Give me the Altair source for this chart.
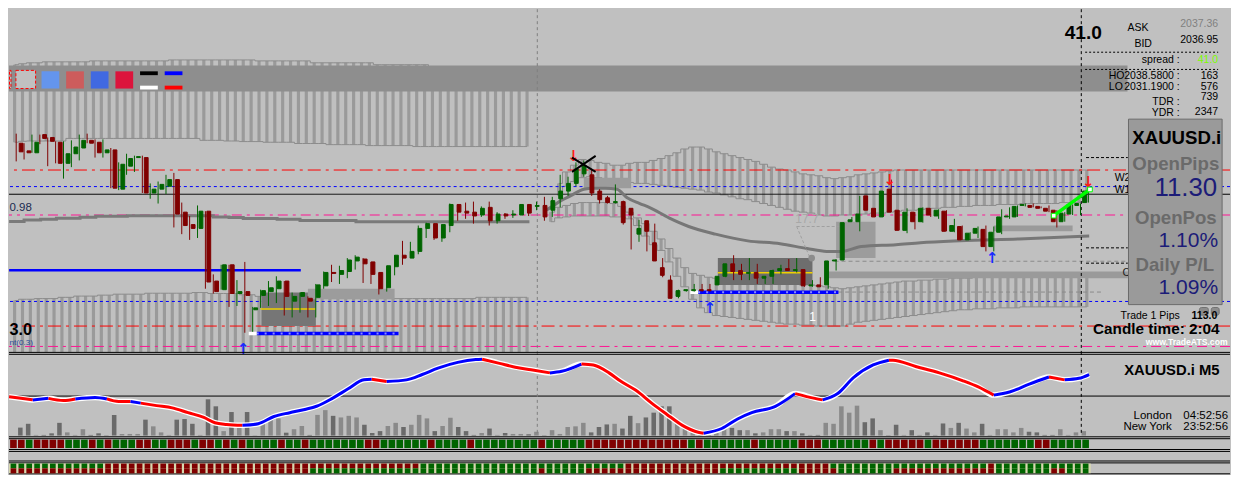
import altair as alt
import pandas as pd

# ================= values =================
# XAUUSD.i M5 candles, bar index 0..136 (left to right)
open_ = [2042.0, 2041.2, 2041.0, 2042.9, 2042.6, 2042.1, 2039.9, 2040.9, 2041.5, 2042.3,
         2042.1, 2041.0, 2041.3, 2037.2, 2039.6, 2040.5, 2040.5, 2036.8, 2037.2, 2037.5,
         2038.2, 2034.8, 2033.5, 2033.1, 2034.9, 2027.6, 2026.7, 2029.3, 2026.3, 2026.5,
         2024.6, 2026.1, 2026.5, 2026.8, 2027.6, 2025.5, 2026.0, 2025.8, 2025.9, 2027.1,
         2028.5, 2028.3, 2028.6, 2029.7, 2029.9, 2029.6, 2028.5, 2026.9, 2029.1, 2030.3,
         2030.0, 2030.7, 2033.1, 2033.6, 2032.1, 2033.4, 2035.6, 2034.9, 2034.8, 2034.5,
         2035.3, 2033.9, 2034.6, 2034.5, 2034.5, 2035.6, 2035.4, 2035.5, 2035.0, 2036.2,
         2037.0, 2037.8, 2038.8, 2038.7, 2037.0, 2036.3, 2035.8, 2035.9, 2035.2, 2032.5,
         2033.9, 2031.6, 2029.0, 2027.7, 2026.0, 2026.6, 2026.6, 2026.7, 2026.7, 2027.2,
         2028.1, 2029.4, 2028.7, 2028.4, 2028.5, 2027.9, 2028.1, 2028.7, 2028.9, 2028.7,
         2028.8, 2027.1, 2027.2, 2027.2, 2029.7, 2029.8, 2033.8, 2033.8, 2036.5, 2035.2,
         2034.3, 2037.2, 2035.0, 2032.9, 2034.8, 2033.8, 2035.2, 2034.4, 2034.9, 2032.8,
         2033.3, 2031.9, 2032.6, 2033.0, 2031.2, 2032.7, 2034.3, 2034.3, 2035.5, 2035.5,
         2035.4, 2035.2, 2035.0, 2033.8, 2034.6, 2035.5, 2035.8]
close = [2041.1, 2041.0, 2042.1, 2042.5, 2042.2, 2039.9, 2040.9, 2041.6, 2042.3, 2042.0,
         2041.0, 2041.3, 2037.3, 2039.8, 2040.4, 2040.6, 2036.8, 2037.2, 2037.7, 2038.2,
         2034.6, 2033.4, 2033.1, 2034.9, 2027.5, 2026.5, 2029.3, 2026.3, 2026.5, 2026.1,
         2024.8, 2026.6, 2026.9, 2027.6, 2026.0, 2026.0, 2026.4, 2025.5, 2027.2, 2028.5,
         2028.4, 2028.7, 2029.8, 2030.1, 2029.4, 2028.3, 2026.8, 2029.2, 2030.3, 2030.0,
         2030.7, 2033.1, 2033.6, 2032.1, 2033.5, 2035.6, 2034.8, 2034.7, 2034.4, 2035.2,
         2033.9, 2034.6, 2034.4, 2034.6, 2035.6, 2034.7, 2035.5, 2034.3, 2036.0, 2037.0,
         2037.8, 2039.3, 2039.7, 2036.8, 2036.1, 2035.8, 2035.9, 2033.7, 2034.5, 2033.1,
         2032.8, 2029.7, 2028.2, 2025.8, 2026.6, 2026.7, 2026.7, 2026.6, 2026.6, 2028.1,
         2029.4, 2028.6, 2028.3, 2028.5, 2027.9, 2028.1, 2028.7, 2028.9, 2028.7, 2028.8,
         2027.1, 2027.2, 2027.0, 2029.7, 2029.8, 2033.7, 2034.0, 2034.6, 2035.0, 2034.3,
         2037.0, 2034.8, 2032.9, 2034.8, 2033.8, 2035.2, 2034.5, 2035.0, 2032.8, 2033.4,
         2031.9, 2032.6, 2033.1, 2031.2, 2032.7, 2034.3, 2034.4, 2035.4, 2035.6, 2035.3,
         2035.2, 2034.9, 2033.8, 2034.7, 2035.6, 2035.7, 2037.0]
high = [2043.0, 2042.0, 2042.9, 2042.9, 2042.6, 2042.2, 2042.2, 2042.3, 2042.9, 2043.0,
        2042.4, 2042.4, 2041.5, 2040.0, 2040.9, 2040.7, 2040.7, 2037.8, 2038.0, 2038.7,
        2038.9, 2035.8, 2034.4, 2035.5, 2034.9, 2028.3, 2029.3, 2029.3, 2027.7, 2029.6,
        2024.9, 2026.7, 2027.6, 2028.1, 2027.6, 2026.4, 2026.4, 2026.0, 2027.3, 2028.6,
        2029.3, 2029.2, 2030.0, 2030.3, 2030.0, 2029.6, 2028.5, 2029.2, 2030.3, 2031.8,
        2031.7, 2033.4, 2033.7, 2033.6, 2033.5, 2035.7, 2035.6, 2035.8, 2035.9, 2035.4,
        2035.9, 2034.8, 2034.7, 2035.0, 2035.6, 2035.6, 2035.9, 2036.4, 2036.4, 2038.7,
        2038.5, 2040.0, 2040.2, 2039.2, 2037.2, 2036.5, 2037.7, 2036.0, 2035.2, 2034.0,
        2033.9, 2033.6, 2030.0, 2028.2, 2026.7, 2026.7, 2027.3, 2027.3, 2027.3, 2028.1,
        2029.4, 2030.3, 2029.4, 2030.0, 2029.4, 2028.1, 2028.8, 2029.3, 2029.9, 2030.0,
        2028.8, 2027.7, 2028.0, 2029.7, 2029.9, 2033.7, 2034.3, 2036.5, 2036.5, 2035.2,
        2037.0, 2038.2, 2035.0, 2035.2, 2034.8, 2035.3, 2035.2, 2035.1, 2035.0, 2034.1,
        2033.4, 2032.7, 2033.3, 2033.4, 2033.3, 2035.1, 2035.3, 2035.5, 2035.7, 2035.7,
        2035.4, 2035.5, 2035.0, 2034.8, 2035.6, 2035.7, 2037.2]
low = [2040.1, 2040.3, 2041.0, 2041.9, 2039.6, 2039.9, 2038.3, 2039.5, 2040.2, 2042.0,
       2040.5, 2040.5, 2037.3, 2037.1, 2038.7, 2039.0, 2036.8, 2036.2, 2035.7, 2036.7,
       2033.2, 2032.5, 2031.9, 2032.1, 2026.8, 2026.3, 2026.7, 2024.9, 2025.0, 2022.2,
       2022.3, 2024.8, 2025.0, 2025.3, 2024.0, 2023.8, 2024.3, 2023.8, 2023.8, 2026.8,
       2027.5, 2027.3, 2027.9, 2028.8, 2027.4, 2027.3, 2026.2, 2026.5, 2028.2, 2029.3,
       2030.0, 2030.4, 2032.1, 2031.9, 2031.7, 2032.7, 2033.9, 2034.1, 2033.6, 2034.3,
       2033.4, 2033.6, 2034.1, 2034.2, 2034.5, 2034.4, 2035.0, 2033.9, 2034.3, 2035.3,
       2036.5, 2037.5, 2038.5, 2036.5, 2035.7, 2035.7, 2035.7, 2033.5, 2030.9, 2031.7,
       2030.7, 2029.7, 2028.0, 2025.8, 2025.8, 2026.5, 2026.5, 2026.5, 2026.5, 2027.2,
       2028.0, 2027.7, 2027.7, 2027.7, 2027.3, 2027.3, 2027.3, 2028.3, 2028.7, 2028.5,
       2027.0, 2027.0, 2027.0, 2026.8, 2028.7, 2029.8, 2033.8, 2032.8, 2035.0, 2034.3,
       2034.3, 2034.8, 2032.9, 2032.6, 2033.0, 2033.7, 2034.3, 2034.1, 2032.8, 2032.7,
       2031.9, 2031.9, 2032.1, 2030.7, 2030.7, 2032.5, 2034.1, 2034.3, 2035.4, 2035.3,
       2035.2, 2034.8, 2033.2, 2033.8, 2034.5, 2034.5, 2035.8]

# tick volume per bar
volume = [250, 370, 20, 20, 70, 400, 100, 20, 200, 20, 70, 20, 650, 50, 50, 50, 500, 290, 100, 20,
          500, 520, 370, 20, 1140, 920, 140, 740, 270, 740, 10, 370, 520, 540, 90, 200, 300, 20, 650, 800,
          620, 570, 620, 570, 340, 80, 140, 300, 400, 270, 340, 650, 540, 140, 300, 560, 270, 140, 20, 80,
          220, 20, 80, 50, 50, 40, 120, 10, 170, 50, 270, 290, 400, 100, 270, 350, 370, 220,
          620, 390, 570, 720, 920, 920, 500, 320, 100, 70, 100, 100, 240, 240, 170, 170, 70, 100, 200, 200,
          140, 140, 70, 20, 20, 400, 370, 920, 720, 940, 420, 540, 170, 10, 340, 20, 170, 20, 100, 20,
          380, 240, 400, 220, 100, 370, 20, 200, 200, 100, 240, 120, 100, 20, 20, 200, 20, 100, 140]

# hatched envelope bands (price of upper and lower edge per bar)
band_a_start = 0
band_a_top = [2050.2] + [2050.3] + [2050.4] * 2 + [2050.5] * 6 + [2050.6] * 10 + [2050.7] * 11 + [2050.6] * 7 + [2050.4] * 8 + [2050.2] * 7 + [2050.0] * 13
band_a_bot = [2042.1] + [2042.2] + [2042.23] * 5 + [2042.5] * 17 + [2042.3] * 3 + [2042.23] * 2 + [2042.17] * 3 + [2042.1] * 4 + [2041.97] * 4 + [2041.85] * 5 + [2041.75] * 6 + [2041.65] * 15
band_b_start = 0
band_b_top = [2025.57] + [2025.7] * 2 + [2025.77] * 3 + [2025.9] * 2 + [2026.03] * 3 + [2026.13] * 2 + [2026.23] * 4 + [2026.33] * 6 + [2026.4] * 2 + [2026.3] * 4 + [2026.17] * 2 + [2026.0] * 4 + [2025.77] * 24 + [2025.9] * 7
band_b_bot = [2019.0] * 66
band_c_start = 69
band_c_top = [2037.8, 2039.0, 2039.7, 2040.3, 2040.2, 2040.0, 2039.9, 2039.7, 2039.7, 2039.9, 2040.0, 2040.0, 2040.2, 2040.4,
              2040.7, 2041.0, 2041.4, 2041.6, 2041.6, 2041.4, 2041.1, 2040.9, 2040.7, 2040.5, 2040.3, 2040.1, 2039.8, 2039.5,
              2039.3, 2039.2, 2039.0, 2038.8, 2038.7, 2038.6, 2038.4, 2038.3, 2038.4, 2038.5, 2038.7, 2038.8, 2038.9, 2039.0,
              2039.1] + [2039.2] * 25
band_c_bot = [2036.5, 2037.5, 2038.0, 2038.4, 2038.5, 2038.4, 2038.2, 2038.1, 2038.0, 2037.9,
              2037.8, 2037.8, 2037.7, 2037.6, 2037.5, 2037.4, 2037.3, 2037.2, 2037.1, 2036.9,
              2036.8, 2036.6, 2036.4, 2036.2, 2036.1, 2035.9, 2035.7, 2035.5, 2035.3, 2035.1,
              2034.9, 2034.8, 2034.7, 2034.5, 2034.4, 2034.4, 2034.5, 2034.5, 2034.6, 2034.6,
              2034.7, 2034.7, 2034.8, 2034.9, 2035.0, 2035.0, 2035.1, 2035.2, 2035.2, 2035.3,
              2035.3, 2035.4, 2035.4, 2035.5, 2035.5, 2035.5, 2035.6, 2035.6, 2035.6, 2035.7,
              2035.7, 2035.7, 2035.7, 2035.7, 2035.8, 2035.8, 2035.8, 2035.8]
band_d_start = 68
band_d_top = [2034.8, 2035.3, 2035.5, 2035.7, 2035.8, 2035.8, 2035.8, 2035.8, 2035.7, 2035.4,
              2034.8, 2034.2, 2033.6, 2032.8, 2032.0, 2031.0, 2030.0, 2029.0, 2028.4, 2028.2,
              2028.0, 2027.9, 2027.8, 2027.7, 2027.7, 2027.6, 2027.5, 2027.5, 2027.4, 2027.4,
              2027.3, 2027.3, 2027.2, 2027.2, 2027.1, 2027.0, 2026.9, 2026.8, 2026.9, 2027.0,
              2027.1, 2027.2, 2027.3, 2027.4, 2027.5, 2027.6, 2027.6, 2027.7, 2027.7, 2027.8,
              2027.8, 2027.9, 2027.9, 2027.9, 2028.0, 2028.0, 2028.0, 2028.0] + [2028.1] * 11
band_d_bot = [2033.8, 2034.2, 2034.3, 2034.4, 2034.4, 2034.4, 2034.4, 2034.4, 2034.3, 2034.3,
              2034.1, 2033.4, 2032.3, 2031.4, 2030.8, 2029.6, 2028.1, 2027.0, 2025.7, 2024.8,
              2024.3, 2024.0, 2023.9, 2023.8, 2023.7, 2023.6, 2023.5, 2023.4, 2023.3, 2023.2,
              2023.1, 2023.1, 2023.0, 2023.0, 2022.9, 2022.9, 2022.9, 2022.9, 2023.1, 2023.3,
              2023.4, 2023.5, 2023.6, 2023.7, 2023.8, 2023.9, 2024.0, 2024.1, 2024.2, 2024.3,
              2024.4, 2024.5, 2024.6, 2024.6, 2024.7, 2024.7, 2024.7, 2024.8, 2024.8, 2024.8] + [2024.9] * 9

# moving averages
ma_step_idx = [-0.9, 1.0, 3.1, 5.1, 8.1, 10.1, 14.1, 25.0, 27.0, 28.8, 33.1, 36.0, 43.1, 65.1]
ma_step_val = [2033.83, 2033.97, 2034.07, 2034.17, 2034.27, 2034.37, 2034.43, 2034.30, 2034.23, 2034.13,
               2034.05, 2033.93, 2033.80, 2033.80]
ma_slow_idx = [67.2, 67.8, 69.1, 70.3, 72.0, 73.2, 74.7, 76.2, 77.5, 79.1, 80.3, 82.8, 85.3, 88.7, 92.8,
               96.9, 100.3, 102.8, 104.7, 107.2, 111.6, 114.7, 119.7, 127.2, 136.1]
ma_slow_val = [2035.0, 2035.3, 2036.0, 2036.5, 2037.2, 2037.3, 2037.3, 2037.2, 2036.3, 2035.7, 2035.3,
               2034.2, 2033.3, 2032.5, 2031.8, 2031.5, 2031.0, 2030.7, 2030.7, 2031.2, 2031.4, 2031.6,
               2031.8, 2032.0, 2032.3]

# full-width price levels
level_price = [2039.2, 2037.47, 2036.67, 2034.5, 2025.47, 2022.9, 2020.77]
# partial lines: (from bar, to bar, price)
blue_line = [(-0.9, 36.1, 2028.73)]
trade_dots = [(30.5, 48.5, 2022.13), (86.5, 104.3, 2026.43)]
trade_white = [(29.5, 30.5, 2022.13), (85.5, 86.5, 2026.43)]
yellow_lines = [(31.0, 38.0, 2024.67), (89.0, 101.0, 2028.47)]
black_short = [(135.7, 141.0, 2040.5), (135.7, 141.0, 2031.07), (135.7, 141.0, 2029.47)]
gray_dash = [(103.8, 141.0, 2029.67), (101.6, 137.8, 2026.45)]
# boxes: (bar from, bar to, price low, price high)
boxes = [(31.1, 38.0, 2022.9, 2026.4), (37.0, 48.0, 2025.7, 2026.8), (89.0, 101.0, 2027.2, 2030.0),
         (72.0, 78.0, 2037.3, 2038.4), (104.0, 109.0, 2030.0, 2033.8), (124.0, 134.0, 2032.8, 2033.4),
         (103.0, 141.0, 2027.9, 2028.6)]
# signal arrows (bar, price)
arrows_up = [(28.8, 2020.5), (88.0, 2024.8), (123.8, 2030.0)]
arrows_down = [(70.7, 2040.65), (110.8, 2038.2), (136.0, 2037.9)]
trade_green = [(131.6, 2034.43), (136.2, 2037.17)]
cross_marks = [(70.5, 2040.5, 73.5, 2039.0), (73.5, 2040.67, 70.5, 2039.0)]
tri_dash = [(99.0, 2033.3, 104.5, 2033.3), (99.0, 2033.3, 100.7, 2030.0)]
session_lines = [66.1, 135.1]

# oscillator curve (bar, value, colour of following segment)
osc_idx = [-0.9, 0.6, 2.1, 4.1, 6.0, 7.5, 10.0, 11.5, 13.0, 14.5, 15.8, 17.8, 19.8, 21.8, 23.8, 25.2, 26.7,
           28.7, 30.7, 32.7, 34.7, 36.6, 38.1, 40.1, 42.1, 44.1, 45.1, 47.0, 49.5, 51.5, 53.5, 56.0, 58.3,
           59.1, 61.3, 63.3, 65.3, 67.7, 69.2, 71.7, 73.2, 75.2, 76.6, 78.6, 80.6, 82.5, 84.5, 86.5, 87.2,
           89.5, 91.5, 93.3, 96.3, 98.8, 101.3, 102.3, 104.2, 106.2, 108.7, 110.7, 111.2, 114.1, 117.1,
           120.1, 122.1, 124.0, 126.0, 128.5, 131.0, 133.0, 134.8, 136.1]
osc_val = [-0.7, -2.4, -4.0, -2.4, -4.7, -3.0, -1.4, -3.0, -5.7, -5.7, -7.4, -10.0, -12.4, -17.4, -22.4, -28.0,
           -29.7, -30.7, -29.0, -21.4, -17.4, -14.0, -10.7, -2.4, 7.6, 17.0, 17.6, 15.3, 17.0, 22.6, 29.3, 35.3,
           38.3, 38.6, 34.3, 30.3, 27.6, 24.3, 26.0, 33.6, 32.6, 24.3, 16.0, 6.0, -7.4, -19.0, -30.7, -38.0,
           -39.0, -34.0, -24.0, -17.4, -10.7, 2.6, -2.4, -4.0, 2.6, 19.3, 32.6, 37.6, 37.6, 31.0, 24.3, 16.0,
           9.3, 1.0, 4.3, 12.6, 20.0, 17.0, 18.6, 22.6]
osc_col = list("RRBRRBBRRB" "RRRRRRRBBB" "BBBBBBRBBB" "BBBRRRRBBR" "RRR" "RRRRRBBBBB" "RRBBBBRRRR" "RRBBBRBBB")

# colour strips (R = bearish, G = bullish), run lengths per bar
strip1_runs = [("R", 2), ("G", 1), ("R", 4), ("G", 3), ("R", 1), ("G", 1), ("R", 1), ("G", 3), ("R", 2), ("G", 2),
               ("R", 3), ("G", 1), ("R", 2), ("G", 1), ("R", 1), ("G", 1), ("R", 1), ("G", 4), ("R", 1), ("G", 2),
               ("R", 1), ("G", 7), ("R", 2), ("G", 6), ("R", 1), ("G", 4), ("R", 1), ("G", 8), ("R", 1), ("G", 5),
               ("R", 5), ("R", 8), ("G", 1), ("R", 1), ("G", 6), ("R", 1), ("G", 5), ("R", 3), ("G", 6), ("R", 1),
               ("G", 1), ("R", 5), ("G", 1), ("R", 6), ("G", 7), ("R", 2), ("G", 5)]
strip2_top_runs = [("G", 12), ("R", 40), ("G", 26), ("R", 26), ("G", 20), ("R", 1), ("G", 12)]
strip2_bot_runs = [("R", 38), ("G", 29), ("R", 1), ("G", 5), ("R", 5), ("R", 12), ("G", 10), ("R", 5),
                   ("G", 7), ("R", 13), ("G", 7), ("R", 2), ("G", 3)]

# ================= layout (pixels of the 1239x487 original, scaled) =================
W0, H0 = 1239.0, 487.0
W, H = 1222, 466
SX, SY = W / W0, H / H0
H_MAIN, H_OSC = 343, 84
H_STRIP = H - H_MAIN - H_OSC
X_LO, X_HI = (0 - 7.3) / 8, (W0 - 7.3) / 8
XS = alt.Scale(domain=[X_LO, X_HI], nice=False, zero=False)
YM = alt.Scale(domain=[2020.2, 2056.0], nice=False, zero=False)
YO = alt.Scale(domain=[-41.7, 46.3], nice=False, zero=False)
YV = alt.Scale(domain=[-9, 2631], nice=False, zero=False)
FONT = "Liberation Sans"
GREEN, MAROON = "#006400", "#800000"
CMAP = {"R": MAROON, "G": GREEN}


def X(f):
    return alt.X(f, type="quantitative", scale=XS, axis=None)


def Y(f, s=YM):
    return alt.Y(f, type="quantitative", scale=s, axis=None)


def PX(f):
    return alt.X(f, type="quantitative", scale=None, axis=None)


def PY(f):
    return alt.Y(f, type="quantitative", scale=None, axis=None)


def NC(f):
    return alt.Color(f, type="nominal", scale=None, legend=None)


def expand(runs):
    out = []
    for c, n in runs:
        out += [c] * n
    return out


def ptext(rows, y0=0.0, **kw):
    df = pd.DataFrame(rows, columns=["t", "x", "y", "fs", "col"])
    df["px"] = df["x"] * SX
    df["py"] = (df["y"] - y0) * SY
    df["fs"] = df["fs"] * SY
    return alt.Chart(df).mark_text(baseline="middle", **kw).encode(
        x=PX("px"), y=PY("py"), text="t:N",
        size=alt.Size("fs:Q", scale=None, legend=None), color=NC("col"))


def prect(rows, y0=0.0, **kw):
    df = pd.DataFrame(rows, columns=["x0", "x1", "y0", "y1", "col"])
    df["a"], df["b"] = df["x0"] * SX, df["x1"] * SX
    df["c"], df["d"] = (df["y0"] - y0) * SY, (df["y1"] - y0) * SY
    return alt.Chart(df).mark_rect(**kw).encode(
        x=PX("a"), x2=alt.X2("b"), y=PY("c"), y2=alt.Y2("d"), color=NC("col"))


def hline_px(ys, y0=0.0, **kw):
    df = pd.DataFrame({"py": [(y - y0) * SY for y in ys]})
    return alt.Chart(df).mark_rule(**kw).encode(y=PY("py"))


def segs(rows, **kw):
    df = pd.DataFrame(rows, columns=["i0", "i1", "p"])
    return alt.Chart(df).mark_rule(clip=True, **kw).encode(x=X("i0"), x2=alt.X2("i1"), y=Y("p"))


# ================= main price panel =================
cdf = pd.DataFrame({"i": list(range(len(open_))), "o": open_, "h": high, "l": low, "c": close})
cdf["col"] = [GREEN if c > o else MAROON for o, c in zip(open_, close)]


def band_df(name, start, top, bot):
    return pd.DataFrame({"band": name, "i": [start + k - 0.2 for k in range(len(top))], "top": top, "bot": bot})


bdf = pd.concat([band_df("a", band_a_start, band_a_top, band_a_bot),
                 band_df("b", band_b_start, band_b_top, band_b_bot),
                 band_df("c", band_c_start, band_c_top, band_c_bot),
                 band_df("d", band_d_start, band_d_top, band_d_bot)], ignore_index=True)

M = []
M.append(alt.Chart(bdf).mark_rule(color="#9a9a9a", strokeWidth=3.2 * SX, clip=True).encode(
    x=X("i"), y=Y("top"), y2=alt.Y2("bot")))
for edge in ["top", "bot"]:
    M.append(alt.Chart(bdf).mark_line(color="#8c8c8c", strokeWidth=1, interpolate="step", clip=True).encode(
        x=X("i"), y=Y(edge), detail="band:N"))

# grey button strip with colour legend
M.append(prect([(0, 1135, 59, 86, "#8e8e8e")]))
M.append(prect([(0.5, 2, 64, 83, "#c0c0c0"), (7, 27, 64, 83, "#c0c0c0")], stroke="#ff0000", strokeWidth=1,
               strokeDash=[3, 2]))
M.append(prect([(33, 51, 65, 83, "#6495ed"), (58, 76, 65, 83, "#cd5c5c"), (83, 101, 65, 83, "#4169e1"),
                (108, 126, 65, 83, "#dc143c"), (133, 151, 65, 69, "#000000"), (133, 151, 80, 84, "#ffffff"),
                (158, 176, 65, 69, "#0000ff"), (158, 176, 80, 84, "#ff0000")]))

# full width levels
level_style = [("#ff0000", [13, 5, 3, 5]), ("#0000ff", [3, 3]), ("#000000", [1, 0]), ("#ff1493", [10, 5, 3, 5]),
               ("#0000ff", [3, 3]), ("#ff0000", [13, 5, 3, 5]), ("#ff1493", [10, 5, 3, 5])]
for p, (col, dash) in zip(level_price, level_style):
    M.append(alt.Chart(pd.DataFrame({"p": [p]})).mark_rule(color=col, strokeDash=dash, strokeWidth=1).encode(y=Y("p")))

# boxes
box_cols = ["#767676", "#9c9c9c", "#6e6e6e", "#9c9c9c", "#9c9c9c", "#9a9a9a", "#9a9a9a"]
boxdf = pd.DataFrame(boxes, columns=["i0", "i1", "p0", "p1"])
boxdf["col"] = box_cols
M.append(alt.Chart(boxdf).mark_rect(clip=True).encode(
    x=X("i0"), x2=alt.X2("i1"), y=Y("p0"), y2=alt.Y2("p1"), color=NC("col")))
M.append(segs(gray_dash, color="#8c8c8c", strokeDash=[4, 3], strokeWidth=1))
M.append(segs(black_short, color="#000000", strokeDash=[3, 2], strokeWidth=1))
M.append(segs(blue_line, color="#0000ff", strokeWidth=2.5))
M.append(segs(yellow_lines, color="#f0d000", strokeWidth=1.5))

# moving averages
M.append(alt.Chart(pd.DataFrame({"i": ma_step_idx, "v": ma_step_val})).mark_line(
    color="#7a7a7a", strokeWidth=3, interpolate="step-after", clip=True).encode(x=X("i"), y=Y("v")))
M.append(alt.Chart(pd.DataFrame({"i": ma_slow_idx, "v": ma_slow_val})).mark_line(
    color="#777777", strokeWidth=3, interpolate="monotone", clip=True).encode(x=X("i"), y=Y("v")))

# triangle label 17.7
tri = pd.DataFrame(tri_dash, columns=["i0", "p0", "i1", "p1"])
M.append(alt.Chart(tri).mark_rule(color="#a0a0a0", strokeDash=[3, 2]).encode(
    x=X("i0"), y=Y("p0"), x2=alt.X2("i1"), y2=alt.Y2("p1")))
M.append(alt.Chart(pd.DataFrame({"i": [100.9], "p": [2030.0]})).mark_circle(size=45, color="#8c8c8c", opacity=1).encode(
    x=X("i"), y=Y("p")))

# session separators
sl = pd.DataFrame({"i": session_lines, "col": ["#808080", "#000000"]})
M.append(alt.Chart(sl).mark_rule(strokeDash=[3, 3], strokeWidth=1).encode(x=X("i"), color=NC("col")))

# trade lines
M.append(segs(trade_dots, color="#0000ff", strokeWidth=3.5))
M.append(segs(trade_dots, color="#8c8cff", strokeWidth=2, strokeDash=[2, 6]))
M.append(segs(trade_white, color="#ffffff", strokeWidth=3.5))

# candles
M.append(alt.Chart(cdf).mark_rule(strokeWidth=1).encode(x=X("i"), y=Y("l"), y2=alt.Y2("h"), color=NC("col")))
M.append(alt.Chart(cdf).mark_bar(size=3.8, strokeWidth=1).encode(
    x=X("i"), y=Y("o"), y2=alt.Y2("c"), color=NC("col"), stroke=NC("col")))

# signals
up = pd.DataFrame(arrows_up, columns=["i", "p"])
dn = pd.DataFrame(arrows_down, columns=["i", "p"])
M.append(alt.Chart(up).mark_text(text="↑", font="DejaVu Sans", fontWeight="bold", fontSize=15, color="#1a2cff",
                                  baseline="middle").encode(x=X("i"), y=Y("p")))
M.append(alt.Chart(dn).mark_text(text="↓", font="DejaVu Sans", fontWeight="bold", fontSize=15, color="#ff1a1a",
                                  baseline="middle").encode(x=X("i"), y=Y("p")))
cm = pd.DataFrame(cross_marks, columns=["i0", "p0", "i1", "p1"])
M.append(alt.Chart(cm).mark_rule(color="#000000", strokeWidth=2).encode(
    x=X("i0"), y=Y("p0"), x2=alt.X2("i1"), y2=alt.Y2("p1")))
tg = pd.DataFrame(trade_green, columns=["i", "p"])
M.append(alt.Chart(tg).mark_line(color="#00ff00", strokeWidth=3.5).encode(x=X("i"), y=Y("p")))
M.append(alt.Chart(tg).mark_square(size=22, color="#ffffff", opacity=1, stroke="#00ff00", strokeWidth=1).encode(
    x=X("i"), y=Y("p")))
lab = pd.DataFrame({"i": [100.3, 101.0], "p": [2034.1, 2023.8], "t": ["17.7", "1"], "col": ["#a8a8a8", "#ffffff"]})
M.append(alt.Chart(lab).mark_text(font=FONT, fontSize=12, baseline="middle").encode(
    x=X("i"), y=Y("p"), text="t:N", color=NC("col")))

# left labels and labels hidden behind the panel
M.append(ptext([("0.98", 0.5, 208, 12, "#1a2a50"), ("nt(0.3)", 0.5, 349, 8.5, "#2a4a9a"),
                ("W2", 1122, 177, 11, "#000000"), ("W1", 1122, 189, 11, "#000000"), ("C", 1130, 276, 11, "#202020")],
               font=FONT, align="left"))
M.append(ptext([("3.0", 0.5, 336, 17, "#000000")], font=FONT, fontWeight="bold", align="left"))

# info panel
M.append(prect([(1136, 1231, 115, 309, "#9a9a9a")], stroke="#6a6a6a", strokeWidth=1))
M.append(prect([(1208, 1217, 312, 320, "#8c8c8c"), (1220, 1228, 312, 320, "#8c8c8c")], stroke="#707070",
               strokeWidth=1, cornerRadius=2))
dash_px = pd.DataFrame({"a": [1092 * SX, 1092 * SX], "b": [1227 * SX, 1227 * SX], "y": [45 * SY, 63 * SY]})
M.append(alt.Chart(dash_px).mark_rule(color="#000000", strokeDash=[2, 2]).encode(x=PX("a"), x2=alt.X2("b"), y=PY("y")))
M.append(ptext([("2037.36", 1227, 15, 11, "#808080"), ("2036.95", 1227, 32, 11, "#000000"),
                ("41.0", 1227, 53, 11, "#7cfc00"), ("spread :", 1188, 53, 11, "#000000"),
                ("2038.5800 :", 1188, 70, 11, "#000000"), ("163", 1227, 70, 11, "#000000"),
                ("2031.1900 :", 1188, 81, 11, "#000000"), ("576", 1227, 81, 11, "#000000"),
                ("TDR :", 1188, 97, 11, "#000000"), ("739", 1227, 92, 11, "#000000"),
                ("YDR :", 1188, 109, 11, "#000000"), ("2347", 1227, 108, 11, "#000000"),
                ("11.30", 1226, 187, 27, "#1c1c78"), ("1.10%", 1227, 242, 22, "#1c1c78"),
                ("1.09%", 1227, 292, 22, "#1c1c78")], font=FONT, align="right"))
M.append(ptext([("ASK", 1135, 20, 11, "#000000"), ("BID", 1142, 36, 11, "#000000"),
                ("HO", 1116, 70, 11, "#000000"), ("LO", 1116, 81, 11, "#000000"),
                ("Trade 1 Pips", 1128, 321, 11, "#000000")], font=FONT, align="left"))
M.append(ptext([("41.0", 1109, 25, 20, "#000000")], font=FONT, fontWeight="bold", align="right"))
M.append(ptext([("113.0", 1200, 321, 11, "#000000"), ("Candle time:  2:04", 1100, 335, 16, "#000000")],
               font=FONT, fontWeight="bold", align="left"))
M.append(ptext([("OpenPips", 1184, 162, 19.5, "#6a6a6a"), ("OpenPos", 1184, 218, 19.5, "#6a6a6a"),
                ("Daily P/L", 1183, 268, 19.5, "#6a6a6a"), ("www.TradeATS.com", 1195, 348, 9, "#ffffff")],
               font=FONT, fontWeight="bold", align="center"))
M.append(ptext([("XAUUSD.i", 1185, 135, 19.5, "#000000")], font=FONT, fontWeight="bold", align="center"))

main = alt.layer(*M).properties(width=W, height=H_MAIN).resolve_scale(x="independent", y="independent")

# ================= oscillator panel =================
Y0_OSC = 358.0
vdf = pd.DataFrame({"i": [k - 0.1 for k in range(len(volume))], "vol": volume,
                    "col": ["#8a8a8a" if c > o else "#6a6a6a" for o, c in zip(open_, close)]})
rows = []
run, k, n = 0, 0, len(osc_idx)
while k < n - 1:
    col = osc_col[k]
    j = k
    while j < n - 1 and osc_col[j] == col:
        j += 1
    for m in range(k, j + 1):
        rows.append((run, osc_idx[m], osc_val[m], "#ff0000" if col == "R" else "#0000ff"))
    run += 1
    k = j
odf = pd.DataFrame(rows, columns=["run", "i", "v", "col"])
oall = pd.DataFrame({"i": osc_idx, "v": osc_val})

O = []
O.append(alt.Chart(vdf).mark_bar(size=4.6 * SX).encode(x=X("i"), y=Y("vol", YV), color=NC("col")))
O.append(alt.Chart(pd.DataFrame({"z": [0.0]})).mark_rule(color="#000000", strokeWidth=1).encode(y=Y("z", YO)))
O.append(alt.Chart(sl).mark_rule(strokeDash=[3, 3], strokeWidth=1).encode(x=X("i"), color=NC("col")))
O.append(hline_px([358.5, 360.5], Y0_OSC, color="#000000", strokeWidth=1))
O.append(alt.Chart(oall).mark_line(color="#ffffff", strokeWidth=5.5, interpolate="monotone", clip=True).encode(
    x=X("i"), y=Y("v", YO)))
O.append(alt.Chart(odf).mark_line(strokeWidth=3, interpolate="monotone", clip=True).encode(
    x=X("i"), y=Y("v", YO), detail="run:N", color=NC("col")))
O.append(ptext([("XAUUSD.i  M5", 1180, 378, 15.5, "#000000")], Y0_OSC, font=FONT, fontWeight="bold", align="center"))
O.append(ptext([("London", 1180, 425, 12, "#000000"), ("New York", 1180, 437, 12, "#000000"),
                ("04:52:56", 1237, 425, 12, "#000000"), ("23:52:56", 1237, 437, 12, "#000000")],
               Y0_OSC, font=FONT, align="right"))
osc = alt.layer(*O).properties(width=W, height=H_OSC).resolve_scale(x="independent", y="independent")

# ================= colour strips =================
Y0_ST = 446.0
s1 = expand(strip1_runs)
s2t = expand(strip2_top_runs)
s2b = expand(strip2_bot_runs)
sdf = pd.DataFrame({"i": list(range(len(s1)))})
sdf["a"] = sdf["i"] - 0.35 - 0.42
sdf["b"] = sdf["i"] - 0.35 + 0.42
sdf["c1"] = [CMAP[c] for c in s1]
t2 = pd.DataFrame({"i": list(range(len(s2t)))})
t2["a"] = t2["i"] - 0.35 - 0.36
t2["b"] = t2["i"] - 0.35 + 0.36
t2["ct"] = [CMAP[c] for c in s2t]
b2 = pd.DataFrame({"i": list(range(len(s2b)))})
b2["a"] = b2["i"] - 0.35 - 0.36
b2["b"] = b2["i"] - 0.35 + 0.36
b2["cb"] = [CMAP[c] for c in s2b]


def ry(y):
    return (y - Y0_ST) * SY


S = []
S.append(hline_px([447, 449, 460.3, 462.3, 472.3, 474.3, 485.7], Y0_ST, color="#000000", strokeWidth=1))
S.append(alt.Chart(sdf).mark_rect().encode(x=X("a"), x2=alt.X2("b"), y=alt.value(ry(450)), y2=alt.value(ry(458.8)),
                                           color=NC("c1")))
base = pd.DataFrame({"a": [X_LO], "b": [136.3]})
S.append(alt.Chart(base).mark_rect(color="#d8d8b0").encode(x=X("a"), x2=alt.X2("b"), y=alt.value(ry(475)),
                                                             y2=alt.value(ry(485.2))))
S.append(alt.Chart(t2).mark_rect().encode(x=X("a"), x2=alt.X2("b"), y=alt.value(ry(475)), y2=alt.value(ry(480)),
                                          color=NC("ct")))
S.append(alt.Chart(b2).mark_rect().encode(x=X("a"), x2=alt.X2("b"), y=alt.value(ry(480)), y2=alt.value(ry(485.2)),
                                          color=NC("cb")))
strip = alt.layer(*S).properties(width=W, height=H_STRIP).resolve_scale(x="independent", y="independent")

chart = alt.vconcat(main, osc, strip, spacing=0, bounds="flush").properties(
    background="#c0c0c0", padding={"left": 0, "top": 0, "right": 0, "bottom": 0}
).configure_view(stroke=None).configure_concat(spacing=0)

chart.save("out.html", embed_options={"renderer": "svg", "actions": False})
